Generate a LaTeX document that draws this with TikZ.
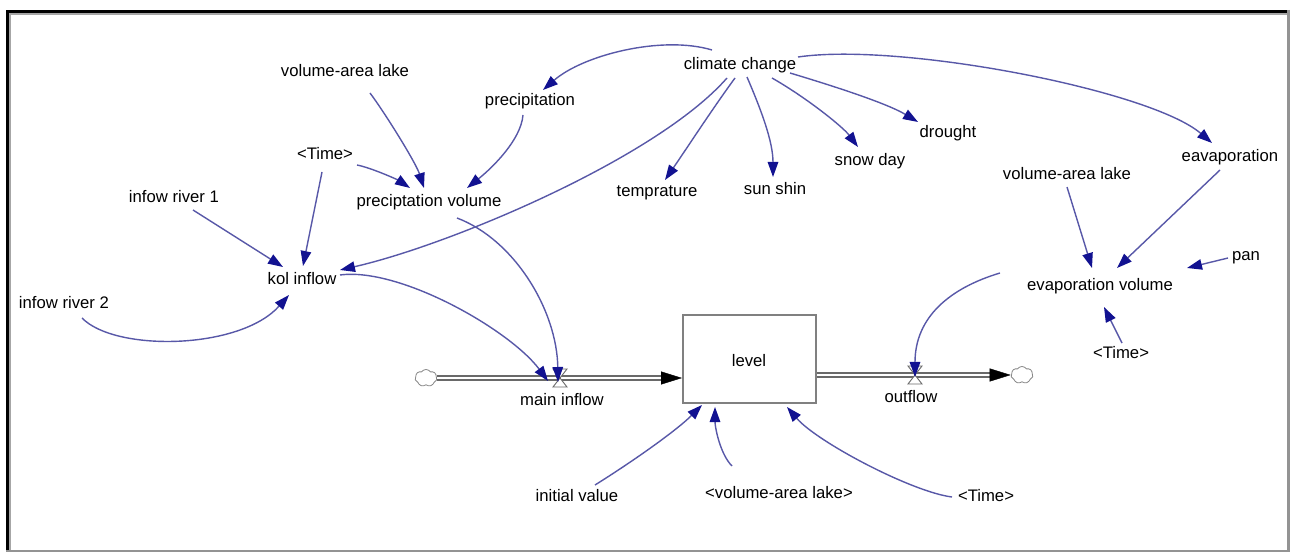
\documentclass[tikz,border=0pt]{standalone}
\usepackage{fontspec}
\setmainfont{Liberation Sans}
\usetikzlibrary{arrows.meta,shapes.symbols}
\definecolor{linkc}{RGB}{88,88,168}
\definecolor{tipc}{RGB}{18,18,145}
\definecolor{pipec}{RGB}{105,105,105}
\newcommand\lblfont{\fontsize{16.7}{20}\selectfont}
\begin{document}
\begin{tikzpicture}[x=1pt,y=-1pt,
  lbl/.style={font=\lblfont, inner sep=0pt, text height=12pt, text depth=3.5pt},
  link/.style={draw=linkc, line width=1.4pt, -{Triangle[length=15pt,width=10.5pt,color=tipc]}},
  pipe/.style={draw=pipec, line width=1.4pt, double=white, double distance=2.6pt},
  pipetip/.style={-{Triangle[length=21pt,width=13pt]}, black, line width=0.4pt},
  valve/.style={draw=pipec, fill=white, line width=0.9pt, line join=miter},
  cloudsym/.style={cloud, cloud puffs=7, cloud puff arc=110, aspect=1.35, minimum width=22pt, minimum height=17pt, inner sep=0pt, draw=pipec!80, fill=white, line width=0.8pt},
  stockbox/.style={draw=gray, line width=2pt, fill=white, minimum width=133pt, minimum height=88pt, inner sep=0pt, font=\lblfont}
]
\useasboundingbox (0,0) rectangle (1291,553);
\fill[white] (0,0) rectangle (1291,553);

% window frame: dark top/left edge, grey bottom/right edge
\draw[line width=3pt, black] (7.5,551) -- (7.5,11.5) -- (1288,11.5);
\draw[line width=1.5pt, gray!70] (10,550) -- (10,14) -- (1287,14);
\draw[line width=2.5pt, gray!85] (1288.5,10) -- (1288.5,550.8) -- (6,550.8);

% stock, sources and sinks
\node[stockbox] (lev) at (749.5,359) {};
\node[lbl] (levlbl) at (749,362) {level};
\node[cloudsym] (cin) at (426,378) {};
\node[cloudsym] (cout) at (1022,375) {};

% flow pipes
\coordinate (intip) at (cin.east -| lev.west);
\draw[pipe] (cin.east) -- ([xshift=-20]intip);
\draw[pipetip] ([xshift=-21]intip) -- (intip);
\coordinate (outtip) at (cout.west);
\draw[pipe] (cout.west -| lev.east) -- ([xshift=-20]outtip);
\draw[pipetip] ([xshift=-21]outtip) -- (outtip);

% valves
\coordinate (vin) at (560,378);
\coordinate (vout) at (915,375);
\draw[valve] (vin) ++(-7,-9) -- ++(14,0) -- ++(-14,18) -- ++(14,0) -- cycle;
\draw[valve] (vout) ++(-7,-9) -- ++(14,0) -- ++(-14,18) -- ++(14,0) -- cycle;
\node[lbl] (mainlbl) at (562,401) {main inflow};
\node[lbl] (outlbl) at (911,398) {outflow};

% auxiliary variables
\node[lbl] (vala) at (345,72) {volume-area lake};
\node[lbl] (prec) at (530,101) {precipitation};
\node[lbl] (cc) at (740,65) {climate change};
\node[lbl] (timea) at (325,155) {<Time>};
\node[lbl] (pv) at (429,202) {preciptation volume};
\node[lbl] (ira) at (174,198) {infow river 1};
\node[lbl] (kol) at (302,280) {kol inflow};
\node[lbl] (irb) at (64,304) {infow river 2};
\node[lbl] (temp) at (657,192) {temprature};
\node[lbl] (sun) at (775,190) {sun shin};
\node[lbl] (snow) at (870,161) {snow day};
\node[lbl] (drought) at (948,133) {drought};
\node[lbl] (eav) at (1230,157) {eavaporation};
\node[lbl] (valb) at (1067,175) {volume-area lake};
\node[lbl] (pan) at (1246,256) {pan};
\node[lbl] (ev) at (1100,286) {evaporation volume};
\node[lbl] (timeb) at (1121,354) {<Time>};
\node[lbl] (iv) at (577,497) {initial value};
\node[lbl] (valc) at (779,494) {<volume-area lake>};
\node[lbl] (timec) at (986,497) {<Time>};

% information links
\draw[link] ([shift={(25,21)}]vala.center) .. controls +(15,20) and +(-8,-25) .. ([shift={(-5,-14)}]pv.center);
\draw[link] ([shift={(-7,14)}]prec.center) .. controls +(-2,25) and +(25,-20) .. ([shift={(38,-14)}]pv.center);
\draw[link] ([shift={(-28,-15)}]cc.center) .. controls +(-50,-15) and +(40,-35) .. ([shift={(13,-11)}]prec.center);
\draw[link] ([shift={(32,10)}]timea.center) .. controls +(15,3) and +(-12,-8) .. ([shift={(-19,-14)}]pv.center);
\draw[link] ([shift={(-3,17)}]timea.center) -- ([shift={(1,-14)}]kol.center);
\draw[link] ([shift={(19,12)}]ira.center) -- ([shift={(-19,-13)}]kol.center);
\draw[link] ([shift={(18,14)}]irb.center) .. controls +(33,34) and +(-49,55) .. ([shift={(-13,15)}]kol.center);
\draw[link] ([shift={(-13,13)}]cc.center) .. controls +(-70,80) and +(110,-25) .. ([shift={(38,-10)}]kol.center);
\draw[link] ([shift={(28,16)}]pv.center) .. controls +(58,22) and +(-1,-71) .. ([shift={(-2,4)}]vin);
\draw[link] ([shift={(38,-5)}]kol.center) .. controls +(60,-8) and +(-38,-51) .. ([shift={(-12,3)}]vin);
\draw[link] ([shift={(-5,13)}]cc.center) .. controls +(-22,30) and +(22,-32) .. ([shift={(8,-12)}]temp.center);
\draw[link] ([shift={(7,12)}]cc.center) .. controls +(15,35) and +(0,-35) .. ([shift={(-2,-13)}]sun.center);
\draw[link] ([shift={(32,13)}]cc.center) .. controls +(35,20) and +(-15,-20) .. ([shift={(-12,-14)}]snow.center);
\draw[link] ([shift={(50,8)}]cc.center) .. controls +(50,15) and +(-30,-18) .. ([shift={(-30,-11)}]drought.center);
\draw[link] ([shift={(58,-8)}]cc.center) .. controls +(102,-15) and +(-62,-53) .. ([shift={(-18,-14)}]eav.center);
\draw[link] ([shift={(-10,13)}]eav.center) -- ([shift={(17,-18)}]ev.center);
\draw[link] ([shift={(0,12)}]valb.center) -- ([shift={(-8,-18)}]ev.center);
\draw[link] ([shift={(-18,2)}]pan.center) -- ([shift={(87,-18)}]ev.center);
\draw[link] ([shift={(1,-11)}]timeb.center) -- ([shift={(4,21)}]ev.center);
\draw[link] ([shift={(-100,-13)}]ev.center) .. controls +(-50,15) and +(0,-60) .. ([shift={(0,2)}]vout);
\draw[link] ([shift={(18,-12)}]iv.center) .. controls +(40,-25) and +(-25,25) .. ([shift={(-47.5,46)}]lev.center);
\draw[link] ([shift={(-47,-28)}]valc.center) .. controls +(-12,-12) and +(0,20) .. ([shift={(-34.5,48)}]lev.center);
\draw[link] ([shift={(-34,0)}]timec.center) .. controls +(-40,-5) and +(30,35) .. ([shift={(37.5,48)}]lev.center);
\end{tikzpicture}
\end{document}
